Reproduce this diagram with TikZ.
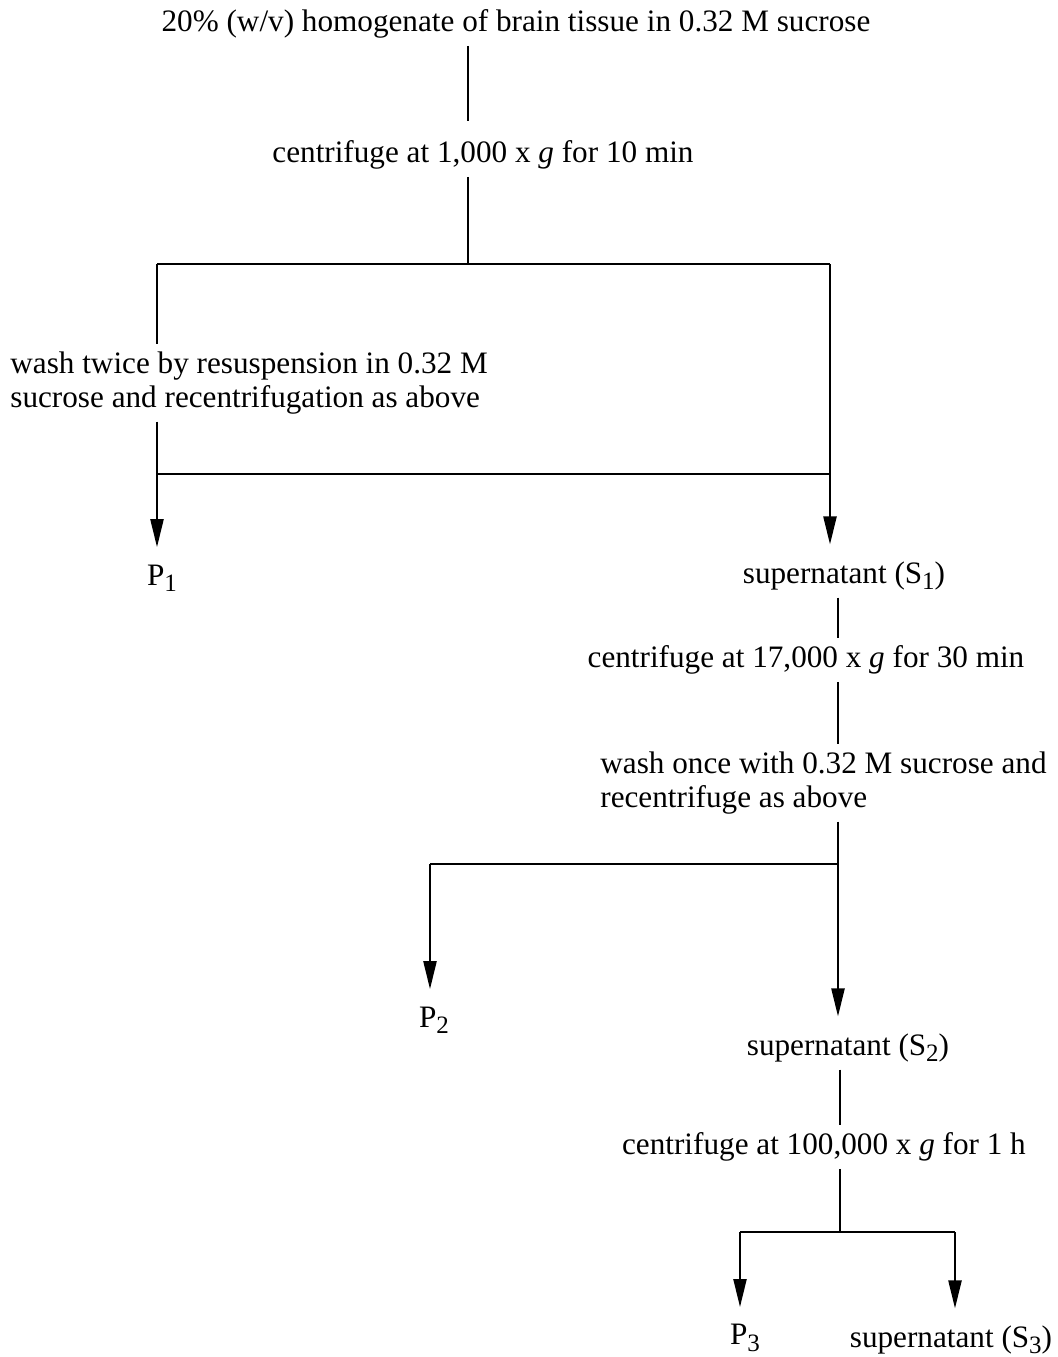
\documentclass[tikz,border=0pt]{standalone}
\usepackage{fontspec}
\setmainfont{Liberation Serif}
\usetikzlibrary{positioning, arrows.meta, calc}
\newcommand{\lowsub}[1]{\raisebox{-0.45ex}{\fontsize{12.5}{12.5}\selectfont #1}}

\begin{document}
\begin{tikzpicture}[x=0.5pt, y=-0.5pt,
      every node/.style={font=\fontsize{15.6}{17}\selectfont, inner sep=3.5pt},
      flow/.style={line width=1.1pt},
      arr/.style={line width=1.1pt, shorten >=5pt, -{Triangle[length=14pt, width=6.5pt]}}]
    \useasboundingbox (0,0) rectangle (1058,1357);
    \node (homog) at (516,24) {20\% (w/v) homogenate of brain tissue in 0.32 M sucrose};
    \node (cen1) at (483,155) {centrifuge at 1,000 x \textit{g} for 10 min};
    \node[anchor=west, align=left] (wash1) at (3,383) {wash twice by resuspension in 0.32 M\\sucrose and recentrifugation as above};
    \node (p1) at (162,578) {P\lowsub{1}};
    \node (s1) at (844,576) {supernatant (S\lowsub{1})};
    \node (cen2) at (806,660) {centrifuge at 17,000 x \textit{g} for 30 min};
    \node[anchor=west, align=left] (wash2) at (593,783) {wash once with 0.32 M sucrose and\\recentrifuge as above};
    \node (p2) at (434,1020) {P\lowsub{2}};
    \node (s2) at (848,1048) {supernatant (S\lowsub{2})};
    \node (cen3) at (824,1147) {centrifuge at 100,000 x \textit{g} for 1 h};
    \node (p3) at (745,1338) {P\lowsub{3}};
    \node (s3) at (951,1340) {supernatant (S\lowsub{3})};
    \coordinate (top) at (468,264);
    \coordinate (left1) at (157,264);
    \coordinate (right1) at (830,264);
    \coordinate (left2) at (157,474);
    \coordinate (right2) at (830,474);
    \coordinate (mid2) at (838,864);
    \coordinate (left3) at (430,864);
    \coordinate (mid3) at (840,1232);
    \coordinate (left4) at (740,1232);
    \coordinate (right4) at (955,1232);
    \draw[flow, shorten >=6pt] (homog.south -| top) -- (cen1.north -| top);
    \draw[flow] (cen1.south -| top) -- (top);
    \draw[flow] (left1) -- (right1);
    \draw[flow] (left1) -- (wash1.north -| left1);
    \draw[arr] (wash1.south -| left1) -- (left1 |- p1.north);
    \draw[flow] (left2) -- (right2);
    \draw[arr] (right1) -- (right1 |- s1.north);
    \draw[flow] (s1.south -| mid2) -- (cen2.north -| mid2);
    \draw[flow] (cen2.south -| mid2) -- (wash2.north -| mid2);
    \draw[arr] (wash2.south -| mid2) -- (mid2 |- s2.north);
    \draw[flow] (left3) -- (mid2);
    \draw[arr] (left3) -- (left3 |- p2.north);
    \draw[flow] (s2.south -| mid3) -- (cen3.north -| mid3);
    \draw[flow] (cen3.south -| mid3) -- (mid3);
    \draw[flow] (left4) -- (right4);
    \draw[arr] (left4) -- (left4 |- p3.north);
    \draw[arr] (right4) -- (right4 |- s3.north);
  \end{tikzpicture}
\end{document}
